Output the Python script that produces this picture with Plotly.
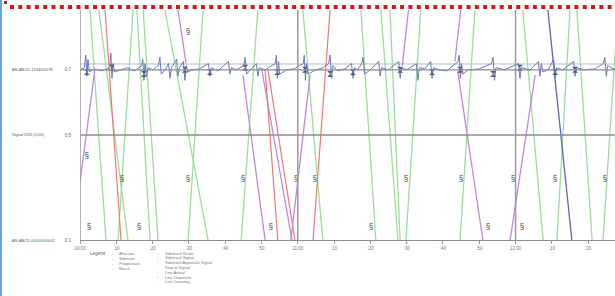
import plotly.graph_objects as go

# ---------------- data (minutes after 10:00, signal level) ----------------
tick_minutes = [0, 10, 20, 30, 40, 50, 60, 70, 80, 90, 100, 110, 120, 130, 140]
tick_labels = ["10:00", ":10", ":20", ":30", ":40", ":50", "11:00", ":10", ":20", ":30", ":40", ":50", "12:00", ":10", ":20"]

level_vals = [0, 50, 81]
level_labels = ["0.1", "0.5", "0.7"]
level_names = ["AN-ABCD-0000/000002", "Signal XXX (0,00)", "AN-ABCD-1234/00078"]

hour_marks = [0, 60, 120]

# green (sidetrack) runs: time at top, time at bottom
green_top_t = [2.76, 5.2, 14.6, 15.7, 17.4, 33.9, 23.4, 49.0, 61.4, 77.4, 82.9, 85.4, 93.9, 108.8, 122.0, 135.0, 136.9, 148.2]
green_bot_t = [7.16, 13.2, 10.5, 19.3, 21.5, 29.8, 35.3, 44.4, 66.9, 81.5, 87.6, 88.2, 89.8, 104.7, 127.6, 131.4, 141.1, 144.1]

# purple runs: (t0, v0) -> (t1, v1)
purple_t0 = [0.0, 27.0, 44.9, 50.1, 63.4, 104.1, 125.4, 103.3, 88.8]
purple_v0 = [27.6, 109.5, 78.5, 81.0, 78.5, 80.0, 78.5, 85.0, 83.0]
purple_t1 = [4.1, 29.2, 51.0, 58.4, 58.1, 111.0, 118.5, 104.9, 90.5]
purple_v1 = [81.0, 84.3, 0.0, 0.0, 0.0, 0.0, 0.0, 109.5, 109.5]

# red runs
red_t0 = [6.9, 68.9, 51.0, 51.8]
red_v0 = [109.5, 109.5, 81.0, 81.0]
red_t1 = [11.3, 64.2, 54.5, 59.2]
red_v1 = [0.0, 0.0, 0.0, 0.0]

# blue run
blue_t0 = [128.9]
blue_v0 = [109.5]
blue_t1 = [135.5]
blue_v1 = [0.0]

# allocator trace near the upper level
alloc_t = [0, 1.2, 1.6, 1.9, 2.2, 2.6, 4, 6,
           8.2, 8.5, 8.8, 9.1, 9.5, 11, 13, 15,
           17.0, 17.3, 17.6, 17.9, 18.3, 18.8, 20,
           21.6, 22.0, 22.4, 23.5, 24.4, 24.8, 25.2,
           26.6, 27.0, 27.4, 28.5, 28.9, 29.3, 29.7, 31, 33,
           35.4, 35.8, 36.2, 38, 40.9, 41.3, 41.7, 43,
           45.1, 45.5, 45.9, 47, 48.6, 49.0, 49.4, 51,
           53.8, 54.1, 54.4, 54.7, 55.0, 57, 59,
           61.5, 61.8, 62.1, 62.4, 62.8, 65, 67,
           68.5, 68.9, 69.3, 69.7, 71, 73,
           74.8, 75.2, 75.6, 76.5, 77.6, 78.0, 78.4, 80,
           82.3, 82.7, 83.1, 85, 87.8, 88.2, 88.6, 90,
           92.7, 93.1, 93.5, 95, 96.6, 97.0, 97.4, 99, 101,
           104.2, 104.5, 104.8, 105.1, 105.5, 107, 110,
           113.4, 113.8, 114.2, 114.6, 117,
           120.8, 121.2, 121.6, 124, 126.3, 126.7, 127.1, 127.5, 129,
           130.5, 130.9, 131.3, 133, 136.0, 136.4, 136.8, 139, 142,
           144.2, 144.6, 145.0, 145.4, 147.4]
alloc_v = [81, 82, 88, 78, 86, 80, 81.5, 80.5,
           82, 89, 77, 84, 80, 81, 82, 80.5,
           83, 86, 76, 84, 78, 82, 81,
           83, 87, 79, 81, 84, 77, 82,
           86, 78, 82, 85, 76, 83, 80, 81, 81.5,
           84, 78, 82, 80.5, 85, 79, 82, 81,
           83, 87, 79, 81, 84, 78, 82, 81,
           84, 88, 77, 85, 79, 81, 81.5,
           84, 88, 76, 84, 79, 81, 82,
           84, 88, 77, 83, 80.5, 81.5,
           84, 77, 82, 81, 84, 87, 79, 81,
           85, 78, 82, 81, 85, 77, 82, 81,
           84, 76, 82, 81.5, 85, 77, 82, 81, 80.5,
           85, 88, 77, 84, 79, 81, 81.5,
           84, 87, 76, 82, 81,
           84, 77, 82, 81, 85, 78, 84, 80, 81,
           86, 77, 82, 81, 85, 78, 82, 81, 81.5,
           84, 87, 78, 83, 81]

match_t = [1.9, 8.8, 17.6, 28.9, 35.8, 45.5, 54.3, 62.0, 68.9, 75.2, 88.2, 97.0, 104.7, 113.8, 121.2, 130.9, 136.4]
match_v = [80, 82, 79, 81, 80, 82, 80, 81, 79, 80, 81, 80, 81, 79, 82, 80, 81]

event_t = [1.9, 11.6, 2.5, 16.3, 29.8, 29.8, 44.9, 59.5, 64.7, 52.6, 89.8, 105.0, 80.2, 119.3, 130.9, 144.6, 112.4, 121.8]
event_v = [39.5, 28.6, 5.7, 5.7, 28.6, 98.6, 28.6, 28.6, 28.6, 5.7, 28.6, 28.6, 5.7, 28.6, 28.6, 28.6, 5.7, 5.7]

legend_col1 = ["Allocator", "Sidenote", "Progressive", "Match"]
legend_col2 = ["Sidetrack Route", "Sidetrack Signal", "Sidetrack Approach Signal", "Stop at Signal",
               "Line Arrival", "Line Departure", "Line Crossing"]


def segs(t0, v0, t1, v1):
    xs, ys = [], []
    for a, b, c, d in zip(t0, v0, t1, v1):
        xs += [a, c, None]
        ys += [b, d, None]
    return xs, ys


fig = go.Figure()

gx, gy = segs(green_top_t, [109.5] * len(green_top_t), green_bot_t, [0.0] * len(green_bot_t))
fig.add_trace(go.Scatter(x=gx, y=gy, mode="lines", line=dict(color="#9edc9e", width=1.3), hoverinfo="skip"))
px_, py_ = segs(purple_t0, purple_v0, purple_t1, purple_v1)
fig.add_trace(go.Scatter(x=px_, y=py_, mode="lines", line=dict(color="#c088da", width=1.3), hoverinfo="skip"))
rx, ry = segs(red_t0, red_v0, red_t1, red_v1)
fig.add_trace(go.Scatter(x=rx, y=ry, mode="lines", line=dict(color="#ea7a7a", width=1.2), hoverinfo="skip"))
bx, by = segs(blue_t0, blue_v0, blue_t1, blue_v1)
fig.add_trace(go.Scatter(x=bx, y=by, mode="lines", line=dict(color="#5a64b8", width=1.3), hoverinfo="skip"))

fig.add_trace(go.Scatter(x=alloc_t, y=alloc_v, mode="lines", line=dict(color="#6a7ab8", width=1), hoverinfo="skip"))
fig.add_trace(go.Scatter(x=match_t, y=match_v, mode="markers",
                         marker=dict(symbol="hourglass", size=6, color="#56607e"), hoverinfo="skip"))
fig.add_trace(go.Scatter(x=event_t, y=event_v, mode="text", text=["§"] * len(event_t),
                         textfont=dict(size=9, color="#555555"), hoverinfo="skip"))

shapes = []
# level lines
for v in [50, 81]:
    shapes.append(dict(type="line", xref="paper", x0=0, x1=1, yref="y", y0=v, y1=v,
                       line=dict(color="#8c8c8c", width=1.3), layer="above"))
shapes.append(dict(type="line", xref="paper", x0=0, x1=1, yref="y", y0=83.8, y1=83.8,
                   line=dict(color="#b8b8d8", width=1), layer="below"))
for h in hour_marks:
    shapes.append(dict(type="line", xref="x", x0=h, x1=h, yref="paper", y0=0, y1=1,
                       line=dict(color="#9a9a9a", width=1.5), layer="above"))
# left blue frame strip
shapes.append(dict(type="rect", xref="paper", x0=-80 / 535, x1=-78 / 535, yref="paper",
                   y0=-56 / 230, y1=1 + 10 / 230, fillcolor="#6aa3d8", line=dict(width=0)))
# red dotted line at top
shapes.append(dict(type="line", xref="paper", x0=-70 / 535, x1=1, yref="paper",
                   y0=1 + 3 / 230, y1=1 + 3 / 230,
                   line=dict(color="#cc1a1a", width=4, dash="4px,4.3px")))
shapes.append(dict(type="rect", xref="paper", x0=-76 / 535, x1=-73 / 535, yref="paper",
                   y0=1 + 6 / 230, y1=1 + 9 / 230, fillcolor="#cc1a1a", line=dict(width=0)))

ann = []
for v, name in zip(level_vals, level_names):
    ann.append(dict(x=-70 / 535, y=v, xref="paper", yref="y", text=name, showarrow=False,
                    xanchor="left", font=dict(size=4, color="#555555", family="Liberation Sans Narrow, Liberation Sans")))
ann.append(dict(x=8 / 535, y=-17.5 / 230, xref="paper", yref="paper", text="Legend", showarrow=False,
                xanchor="left", font=dict(size=4.5, color="#666666", family="Liberation Sans")))
for i, name in enumerate(legend_col1):
    yy = -(17.5 + i * 5.2) / 230
    ann.append(dict(x=30 / 535, y=yy, xref="paper", yref="paper", text="–", showarrow=False,
                    xanchor="left", font=dict(size=4, color="#777777")))
    ann.append(dict(x=37 / 535, y=yy, xref="paper", yref="paper", text=name, showarrow=False,
                    xanchor="left", font=dict(size=4, color="#777777", family="Liberation Sans")))
for i, name in enumerate(legend_col2):
    yy = -(17.5 + i * 4.8) / 230
    ann.append(dict(x=75 / 535, y=yy, xref="paper", yref="paper", text="·", showarrow=False,
                    xanchor="left", font=dict(size=5, color="#777777")))
    ann.append(dict(x=83 / 535, y=yy, xref="paper", yref="paper", text=name, showarrow=False,
                    xanchor="left", font=dict(size=4, color="#777777", family="Liberation Sans")))

fig.update_layout(
    width=615, height=296,
    margin=dict(l=80, r=0, t=10, b=56),
    paper_bgcolor="white", plot_bgcolor="white",
    showlegend=False,
    shapes=shapes, annotations=ann,
    xaxis=dict(range=[0, 147.4], tickvals=tick_minutes, ticktext=tick_labels,
               tickfont=dict(size=4.5, color="#777777", family="Liberation Sans"),
               ticks="outside", ticklen=3, tickcolor="#999999",
               showgrid=False, zeroline=False, showline=True, linecolor="#8c8c8c", linewidth=1.3),
    yaxis=dict(range=[0, 109.5], tickvals=level_vals, ticktext=level_labels,
               tickfont=dict(size=4.5, color="#666666", family="Liberation Sans"),
               ticks="", ticklabelstandoff=8,
               showgrid=False, zeroline=False, showline=False),
)

fig.write_html("out.html", config={"displayModeBar": False},
               post_script="document.body.style.margin='0';document.body.style.overflow='hidden';")
